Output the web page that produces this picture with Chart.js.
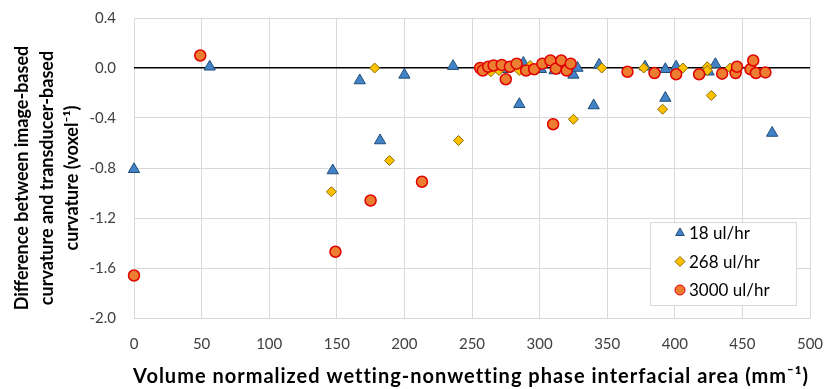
<!DOCTYPE html>
<html>
<head>
<meta charset="utf-8">
<script src="https://cdn.jsdelivr.net/npm/chart.js@4.4.1/dist/chart.umd.min.js"></script>
<style>
  html, body { margin: 0; padding: 0; background: #fff; }
  #wrap { width: 827px; height: 389px; }
</style>
</head>
<body>
<div id="wrap"><canvas id="chart" width="827" height="389"></canvas></div>
<script>
// Data
const labels = ["18 ul/hr", "268 ul/hr", "3000 ul/hr"];

const lowX = [0, 56, 147, 167, 182, 200, 236, 268, 275, 285, 288, 301, 311, 325, 328, 340, 344, 378, 393, 393, 401, 425, 430, 472];
const lowY = [-0.81, 0.01, -0.82, -0.10, -0.58, -0.055, 0.015, 0.0, -0.01, -0.29, 0.04, -0.01, -0.02, -0.055, 0.0, -0.30, 0.025, 0.01, -0.01, -0.24, 0.01, -0.03, 0.03, -0.52];

const midX = [146, 178, 189, 240, 264, 270, 285, 293, 325, 346, 377, 391, 406, 424, 424, 427, 441];
const midY = [-0.99, 0.0, -0.74, -0.58, -0.03, -0.02, -0.02, 0.02, -0.41, 0.0, 0.0, -0.33, 0.0, 0.01, -0.02, -0.22, 0.0];

const highX = [0, 49, 149, 175, 213, 256, 258, 262, 266, 272, 275, 278, 283, 290, 296, 302, 308, 310, 312, 316, 320, 323, 365, 385, 401, 418, 435, 445, 446, 456, 458, 460, 467];
const highY = [-1.66, 0.10, -1.47, -1.06, -0.91, 0.0, -0.02, 0.01, 0.02, 0.025, -0.09, 0.01, 0.035, -0.02, -0.01, 0.035, 0.06, -0.45, -0.005, 0.06, -0.02, 0.035, -0.03, -0.04, -0.05, -0.05, -0.045, -0.04, 0.01, -0.01, 0.06, -0.04, -0.035];

const xTicks = [0, 50, 100, 150, 200, 250, 300, 350, 400, 450, 500];
const yTicks = [0.4, 0.0, -0.4, -0.8, -1.2, -1.6, -2.0];

const toPoints = (xs, ys) => xs.map((x, i) => ({ x: x, y: ys[i] }));
const FONT = "Lato, 'Open Sans', sans-serif";

// Pin the plot area to where it sits in the reference
const AREA = { left: 134, top: 18, right: 810, bottom: 318 };
const fixArea = {
  id: "fixArea",
  afterLayout(chart) {
    const { x, y } = chart.scales;
    const ca = chart.chartArea;
    ca.left = AREA.left; ca.top = AREA.top; ca.right = AREA.right; ca.bottom = AREA.bottom;
    ca.width = AREA.right - AREA.left; ca.height = AREA.bottom - AREA.top;
    x.left = AREA.left; x.right = AREA.right; x.width = ca.width;
    x.top = AREA.bottom; x.bottom = chart.height; x.height = chart.height - AREA.bottom;
    y.left = 0; y.right = AREA.left; y.width = AREA.left;
    y.top = AREA.top; y.bottom = AREA.bottom; y.height = ca.height;
    x.configure();
    y.configure();
  }
};

// Axis titles + legend drawn on top
const decor = {
  id: "decor",
  afterDraw(chart) {
    const c = chart.ctx;
    c.save();
    c.fillStyle = "#000";
    c.textAlign = "center";
    c.textBaseline = "middle";
    c.font = "bold 20px " + FONT;
    c.letterSpacing = "1px";
    c.fillText("Volume normalized wetting-nonwetting phase interfacial area (mm\u207B\u00B9)", 471, 377);
    c.letterSpacing = "0px";

    const yLines = ["Difference between image-based", "curvature and transducer-based", "curvature (voxel\u207B\u00B9)"];
    c.font = "bold 18px " + FONT;
    c.save();
    c.translate(0, 178);
    c.rotate(-Math.PI / 2);
    yLines.forEach((t, i) => c.fillText(t, 0, 22 + i * 25));
    c.restore();

    // legend box
    const lx = 650, ly = 222, lw = 146, lh = 83;
    c.fillStyle = "#fff";
    c.fillRect(lx, ly, lw, lh);
    c.strokeStyle = "#d9d9d9";
    c.lineWidth = 1;
    c.strokeRect(lx + 0.5, ly + 0.5, lw, lh);
    chart.data.datasets.forEach((ds, i) => {
      const cy = ly + 11 + i * 28.5;
      c.fillStyle = ds.backgroundColor;
      c.strokeStyle = ds.borderColor;
      c.lineWidth = 1;
      Chart.helpers.drawPoint(c, { pointStyle: ds.pointStyle, radius: 5, borderWidth: 1 }, 680, cy);
      c.fillStyle = "#000";
      c.font = "17px " + FONT;
      c.textAlign = "left";
      c.fillText(ds.label, 689, cy + 1);
    });
    c.restore();
  }
};

new Chart(document.getElementById("chart"), {
  type: "scatter",
  data: {
    datasets: [
      {
        label: labels[0],
        data: toPoints(lowX, lowY),
        pointStyle: "triangle",
        pointRadius: 6.5,
        backgroundColor: "#4282c6",
        borderColor: "#1f4e79",
        borderWidth: 1,
        clip: false,
        order: 3
      },
      {
        label: labels[1],
        data: toPoints(midX, midY),
        pointStyle: "rectRot",
        pointRadius: 5,
        backgroundColor: "#ffc000",
        borderColor: "#8a6d00",
        borderWidth: 1,
        clip: false,
        order: 2
      },
      {
        label: labels[2],
        data: toPoints(highX, highY),
        pointStyle: "circle",
        pointRadius: 5.5,
        backgroundColor: "#ed7d31",
        borderColor: "#e00000",
        borderWidth: 1.5,
        clip: false,
        order: 1
      }
    ]
  },
  options: {
    responsive: false,
    animation: false,
    plugins: { legend: { display: false }, tooltip: { enabled: false } },
    scales: {
      x: {
        type: "linear",
        min: 0, max: 500,
        afterBuildTicks: (s) => { s.ticks = xTicks.map(v => ({ value: v })); },
        grid: { color: "#d9d9d9", lineWidth: 1, drawTicks: false },
        border: { display: false },
        ticks: { color: "#404040", font: { family: FONT, size: 15 }, padding: 17 }
      },
      y: {
        type: "linear",
        min: -2.0, max: 0.4,
        afterBuildTicks: (s) => { s.ticks = yTicks.map(v => ({ value: v })); },
        grid: {
          color: (ctx) => ctx.tick && Math.abs(ctx.tick.value) < 1e-9 ? "#000" : "#d9d9d9",
          lineWidth: (ctx) => ctx.tick && Math.abs(ctx.tick.value) < 1e-9 ? 1.5 : 1,
          drawTicks: false
        },
        border: { display: false },
        ticks: {
          color: "#404040",
          font: { family: FONT, size: 15 },
          padding: 18,
          callback: (v) => v.toFixed(1)
        }
      }
    }
  },
  plugins: [fixArea, decor]
});
</script>
</body>
</html>
